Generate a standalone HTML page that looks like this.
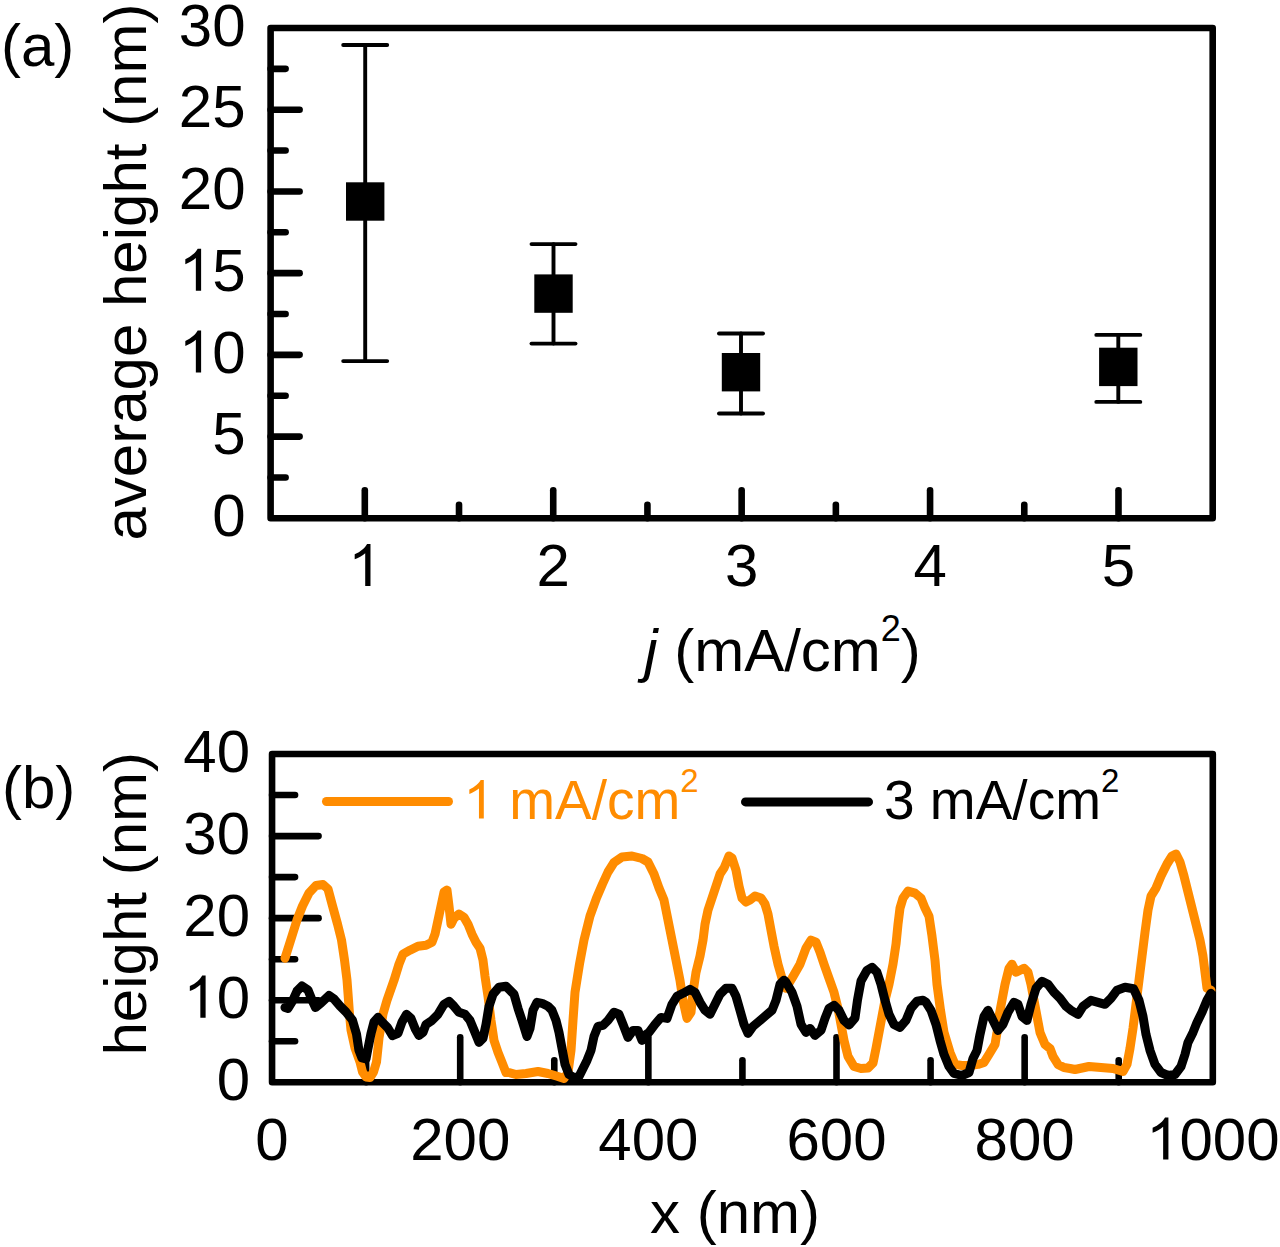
<!DOCTYPE html><html><head><meta charset="utf-8"><style>html,body{margin:0;padding:0;background:#fff;width:1280px;height:1247px;overflow:hidden}svg{display:block}text{font-family:"Liberation Sans",sans-serif}</style></head><body>
<svg width="1280" height="1247" viewBox="0 0 1280 1247">
<g stroke="#000" stroke-width="6.6" stroke-linecap="round" fill="none">
<line x1="270.6" y1="436.58" x2="299.6" y2="436.58"/>
<line x1="270.6" y1="354.87" x2="299.6" y2="354.87"/>
<line x1="270.6" y1="273.15" x2="299.6" y2="273.15"/>
<line x1="270.6" y1="191.43" x2="299.6" y2="191.43"/>
<line x1="270.6" y1="109.72" x2="299.6" y2="109.72"/>
<line x1="270.6" y1="477.44" x2="285.6" y2="477.44"/>
<line x1="270.6" y1="395.72" x2="285.6" y2="395.72"/>
<line x1="270.6" y1="314.01" x2="285.6" y2="314.01"/>
<line x1="270.6" y1="232.29" x2="285.6" y2="232.29"/>
<line x1="270.6" y1="150.57" x2="285.6" y2="150.57"/>
<line x1="270.6" y1="68.86" x2="285.6" y2="68.86"/>
<line x1="364.81" y1="518.3" x2="364.81" y2="490.29999999999995"/>
<line x1="553.23" y1="518.3" x2="553.23" y2="490.29999999999995"/>
<line x1="741.65" y1="518.3" x2="741.65" y2="490.29999999999995"/>
<line x1="930.07" y1="518.3" x2="930.07" y2="490.29999999999995"/>
<line x1="1118.49" y1="518.3" x2="1118.49" y2="490.29999999999995"/>
<line x1="459.02" y1="518.3" x2="459.02" y2="504.79999999999995"/>
<line x1="647.44" y1="518.3" x2="647.44" y2="504.79999999999995"/>
<line x1="835.86" y1="518.3" x2="835.86" y2="504.79999999999995"/>
<line x1="1024.28" y1="518.3" x2="1024.28" y2="504.79999999999995"/>
<rect x="270.6" y="28.0" width="942.10" height="490.30" stroke-linejoin="round"/>
</g>
<g stroke="#000" stroke-width="3.9" stroke-linecap="round" fill="none">
<line x1="365.2" y1="45.0" x2="365.2" y2="361.1"/>
<line x1="343.2" y1="45.0" x2="387.2" y2="45.0"/>
<line x1="343.2" y1="361.1" x2="387.2" y2="361.1"/>
<line x1="553.5" y1="244.1" x2="553.5" y2="343.6"/>
<line x1="531.5" y1="244.1" x2="575.5" y2="244.1"/>
<line x1="531.5" y1="343.6" x2="575.5" y2="343.6"/>
<line x1="741.0" y1="333.5" x2="741.0" y2="413.5"/>
<line x1="719.0" y1="333.5" x2="763.0" y2="333.5"/>
<line x1="719.0" y1="413.5" x2="763.0" y2="413.5"/>
<line x1="1118.3" y1="334.9" x2="1118.3" y2="401.9"/>
<line x1="1096.3" y1="334.9" x2="1140.3" y2="334.9"/>
<line x1="1096.3" y1="401.9" x2="1140.3" y2="401.9"/>
</g>
<rect x="346.00" y="182.30" width="38.4" height="38.4" fill="#000"/>
<rect x="534.30" y="274.40" width="38.4" height="38.4" fill="#000"/>
<rect x="721.80" y="353.00" width="38.4" height="38.4" fill="#000"/>
<rect x="1099.10" y="347.70" width="38.4" height="38.4" fill="#000"/>
<text x="1" y="65.8" font-size="60">(a)</text>
<text x="212.13" y="536.00" font-size="60" fill="#000">0</text>
<text x="212.13" y="454.28" font-size="60" fill="#000">5</text>
<path d="M763 0L583 0L583 1147C540 1106 483 1065 413 1024C343 983 280 952 224 931L224 1105C325 1152 413 1210 488 1276C563 1342 616 1407 647 1470L763 1470Z" transform="translate(178.76,372.57) scale(0.02930,-0.02865)" fill="#000"/><text x="212.13" y="372.57" font-size="60" fill="#000">0</text>
<path d="M763 0L583 0L583 1147C540 1106 483 1065 413 1024C343 983 280 952 224 931L224 1105C325 1152 413 1210 488 1276C563 1342 616 1407 647 1470L763 1470Z" transform="translate(178.76,290.85) scale(0.02930,-0.02865)" fill="#000"/><text x="212.13" y="290.85" font-size="60" fill="#000">5</text>
<text x="178.76" y="209.13" font-size="60" fill="#000">2</text><text x="212.13" y="209.13" font-size="60" fill="#000">0</text>
<text x="178.76" y="127.42" font-size="60" fill="#000">2</text><text x="212.13" y="127.42" font-size="60" fill="#000">5</text>
<text x="178.76" y="45.70" font-size="60" fill="#000">3</text><text x="212.13" y="45.70" font-size="60" fill="#000">0</text>
<path d="M763 0L583 0L583 1147C540 1106 483 1065 413 1024C343 983 280 952 224 931L224 1105C325 1152 413 1210 488 1276C563 1342 616 1407 647 1470L763 1470Z" transform="translate(348.13,586.00) scale(0.02930,-0.02865)" fill="#000"/>
<text x="536.55" y="586.00" font-size="60" fill="#000">2</text>
<text x="724.97" y="586.00" font-size="60" fill="#000">3</text>
<text x="913.39" y="586.00" font-size="60" fill="#000">4</text>
<text x="1101.81" y="586.00" font-size="60" fill="#000">5</text>
<text transform="translate(146,540.5) rotate(-90)" font-size="60">average height (nm)</text>
<text x="782.5" y="671" text-anchor="middle" font-size="60"><tspan font-style="italic">j</tspan> (mA/cm<tspan font-size="36" dy="-30">2</tspan><tspan dy="30">)</tspan></text>
<g stroke="#000" stroke-width="6.6" stroke-linecap="round" fill="none">
<line x1="272.05" y1="1000.22" x2="318.55" y2="1000.22"/>
<line x1="272.05" y1="918.15" x2="318.55" y2="918.15"/>
<line x1="272.05" y1="836.08" x2="318.55" y2="836.08"/>
<line x1="272.05" y1="1041.26" x2="295.05" y2="1041.26"/>
<line x1="272.05" y1="959.19" x2="295.05" y2="959.19"/>
<line x1="272.05" y1="877.11" x2="295.05" y2="877.11"/>
<line x1="272.05" y1="795.04" x2="295.05" y2="795.04"/>
<line x1="460.20" y1="1082.3" x2="460.20" y2="1037.3"/>
<line x1="648.35" y1="1082.3" x2="648.35" y2="1037.3"/>
<line x1="836.50" y1="1082.3" x2="836.50" y2="1037.3"/>
<line x1="1024.65" y1="1082.3" x2="1024.65" y2="1037.3"/>
<line x1="366.12" y1="1082.3" x2="366.12" y2="1060.3"/>
<line x1="554.28" y1="1082.3" x2="554.28" y2="1060.3"/>
<line x1="742.42" y1="1082.3" x2="742.42" y2="1060.3"/>
<line x1="930.58" y1="1082.3" x2="930.58" y2="1060.3"/>
<line x1="1118.72" y1="1082.3" x2="1118.72" y2="1060.3"/>
<rect x="272.05" y="754.0" width="940.75" height="328.30" stroke-linejoin="round"/>
</g>
<polyline points="285,958.2 292,936 297,920 302.5,906 309,893 316,885.5 323,884.5 328,889 332,904 337.5,924 341.5,940 344.5,960 347,980 348.5,1000 349.5,1014 351,1030 355,1048 360,1062 362.5,1072 366,1077 370,1077.5 373.5,1072 376.5,1062 379,1038 383,1014 387,1000.3 394,980.3 399,964.2 403,954.2 410,950.2 418,946.2 426,945.2 432,942.2 435,934.2 438,920.2 441,906.1 444,892.1 447,890.1 449,906.1 451,924.2 454,918.2 459,914.1 464,917.2 468,924.2 472,934.2 476,942.2 480,948.2 483,960.2 485,976.3 488,996.3 491,1020.4 494,1040.4 498,1052.4 502,1062.4 506,1072.5 509,1072.5 516,1074.5 526,1073.5 538,1071.5 548,1073.5 558,1076.5 564,1078.5 568,1072.5 571,1050.4 573,1020.4 575,992.3 579.5,964 584,940 590,916 596.5,898 602.5,884 608,872 614,862.5 622,857 632,856 642,858.5 648,862 654,874 659,888.1 664,900.1 668,920.2 672,940.2 676,960.2 680,980.3 683,1000.3 687,1018.4 691,1012.3 693,992.3 696,972.3 700,956.2 703,940.2 705,924.2 708,910.1 712,898.1 716,886.1 720,874.1 724,868.1 729,856 732,858 736,870.1 739,886.1 742,898.1 746,902.1 750,900.1 755,896.1 761,898.1 765,904.1 768,914.1 771,930.2 774,946.2 778,964.2 782,978.3 786,988.3 792,978.3 800,964.2 806,948.2 811,940.2 816,942.2 820,952.2 824,964.2 829,978.3 834,992.3 838,1008.3 841,1024.4 844,1040.4 848,1056.4 854,1066.5 861,1068.5 868,1068 873,1063 876,1048.4 879,1032.4 882,1016.4 885,1000.3 889,984.3 893,964.2 896,944.2 898,924.2 900,908.1 903,898.1 908,891.1 915,893.1 921,898.1 925,908.1 929,916.2 932,936.2 935,960.2 937,984.3 940.5,1010.3 944,1032.4 950,1052.4 955,1064.4 962,1065.5 970,1065.5 978,1064.4 984,1062.4 989,1054.4 995,1044.4 997,1032.4 999,1016.4 1002,1000.3 1005,984.3 1009,968.3 1012,964.2 1016,972.3 1020,970.3 1024,968.3 1028,972.3 1031,984.3 1034,1000.3 1037,1016.4 1040,1032.4 1045,1044.4 1050,1048.4 1053,1056.4 1058,1064.4 1064,1067.5 1070,1068.5 1075,1069.5 1089,1066.5 1101,1067.5 1113,1068.5 1123,1071.5 1127,1064.4 1130,1048.4 1133,1028.4 1136,1004.3 1139,980.3 1142,956.2 1145,932.2 1148,910.1 1151,896.1 1156,888.1 1161,876.1 1167,864 1172,856 1176,854 1180,862 1184,876.1 1188,892.1 1192,908.1 1196,924.2 1200,940.2 1203,956.2 1205,972.3 1207,988.3 1211,990.3" fill="none" stroke="#FF8C00" stroke-width="9" stroke-linejoin="round" stroke-linecap="round"/>
<polyline points="285,1007.5 288,1008.5 292,1002 297,991 302,986 308,990 312,1000 315.5,1007.5 321,1003 329,995.5 334,999 340,1006 346,1012 352.4,1020 356.5,1034 358.9,1050 362,1058 366,1059 367.7,1050 370.9,1034 374,1022 378,1017.3 382,1022 387.7,1027.7 392.5,1035.7 398,1033.3 402,1022 406.5,1014.3 411,1018.4 415,1028.4 419,1035.4 423,1032.4 426,1024.4 432,1020.4 438,1014.3 444,1004.3 449,1001.3 454,1006.3 459,1012.3 465,1014.3 470,1020.4 475,1032.4 479,1042.4 483,1038.4 486,1024.4 489,1006.3 493,994.3 499,987.3 506,986.3 508,988.3 514,994.3 518,1008.3 522,1020.4 527,1036.4 530,1028.4 533,1010.3 537,1002.3 542,1003.3 548,1006.3 552,1010.3 556,1020.4 559,1032.4 562,1048.4 565,1064.4 569,1074.5 574,1077.5 579,1076.5 583,1068.5 587,1060.4 591,1050.4 594,1036.4 598,1026.4 603,1025.4 608,1020.4 614,1012.3 619,1014.3 623,1024.4 628,1037.4 633,1030.4 638,1030.4 642,1040.4 646,1034.4 649,1032.4 655,1024.4 661,1017.4 667,1018.4 672,1004.3 677,996.3 683,993.3 690,989.3 695,992.3 700,1002.3 705,1010.3 710,1014.3 715,1004.3 720,994.3 726,988.3 732,988.3 736,996.3 740,1010.3 744,1024.4 748,1033.4 753,1026.4 759,1021.4 766,1015.4 772,1010.3 776,1000.3 780,984.3 784,980.3 786,982.3 792,992.3 797,1006.3 801,1024.4 806,1032.4 810,1028.4 815,1035.4 821,1030.4 825,1018.4 829,1008.3 834,1005.3 839,1010.3 844,1020.4 849,1025 855,1018 857.5,1000 861,981 867,970.3 872,967.3 877,972.3 881,984.3 885,1000.3 889,1014.3 894,1024.4 900,1027.4 906,1020.4 911,1008.3 917,1001.3 923,1000.3 926,1002.3 931,1010.3 936,1024.4 940,1040.4 944,1054.4 949,1066.5 954,1073.5 962,1075.5 969,1072.5 973,1058.4 977,1050.4 980,1034.4 984,1016.4 988,1010.3 993,1020.4 998,1030.4 1003,1024.4 1008,1012.3 1014,1002.3 1018,1004.3 1022,1016.4 1027,1020.4 1031,1004.3 1036,988.3 1042,981.3 1048,984.3 1054,992.3 1060,998.3 1066,1006.3 1071,1010.3 1078,1014.3 1083,1006.3 1091,1000.3 1098,1002.3 1105,1004.3 1111,998.3 1117,990.3 1125,987.3 1133.5,988.8 1139,1000.3 1143,1016.4 1146,1034.4 1150,1050.4 1155,1064.4 1161,1072.5 1168,1075.5 1175,1074.5 1181,1066.5 1185,1054.4 1188,1042.4 1193,1032.4 1197,1022.4 1202,1012.3 1207,1000.3 1211,993.3" fill="none" stroke="#000" stroke-width="9" stroke-linejoin="round" stroke-linecap="round"/>
<line x1="326.5" y1="801.5" x2="448.5" y2="801.5" stroke="#FF8C00" stroke-width="9" stroke-linecap="round"/>
<line x1="745.5" y1="801.9" x2="868.5" y2="801.9" stroke="#000" stroke-width="9" stroke-linecap="round"/>
<path d="M763 0L583 0L583 1147C540 1106 483 1065 413 1024C343 983 280 952 224 931L224 1105C325 1152 413 1210 488 1276C563 1342 616 1407 647 1470L763 1470Z" transform="translate(463.30,818.50) scale(0.02686,-0.02626)" fill="#FF8C00"/>
<text x="493.89" y="818.5" font-size="55" fill="#FF8C00">&#160;mA/cm<tspan font-size="33" dy="-27">2</tspan></text>
<text x="884" y="818.5" font-size="55" fill="#000">3 mA/cm<tspan font-size="33" dy="-27">2</tspan></text>
<text x="2" y="807.5" font-size="60">(b)</text>
<text x="216.63" y="1099.80" font-size="60" fill="#000">0</text>
<path d="M763 0L583 0L583 1147C540 1106 483 1065 413 1024C343 983 280 952 224 931L224 1105C325 1152 413 1210 488 1276C563 1342 616 1407 647 1470L763 1470Z" transform="translate(183.26,1017.72) scale(0.02930,-0.02865)" fill="#000"/><text x="216.63" y="1017.72" font-size="60" fill="#000">0</text>
<text x="183.26" y="935.65" font-size="60" fill="#000">2</text><text x="216.63" y="935.65" font-size="60" fill="#000">0</text>
<text x="183.26" y="853.58" font-size="60" fill="#000">3</text><text x="216.63" y="853.58" font-size="60" fill="#000">0</text>
<text x="183.26" y="771.50" font-size="60" fill="#000">4</text><text x="216.63" y="771.50" font-size="60" fill="#000">0</text>
<text x="255.37" y="1159.50" font-size="60" fill="#000">0</text>
<text x="410.15" y="1159.50" font-size="60" fill="#000">2</text><text x="443.52" y="1159.50" font-size="60" fill="#000">0</text><text x="476.88" y="1159.50" font-size="60" fill="#000">0</text>
<text x="598.30" y="1159.50" font-size="60" fill="#000">4</text><text x="631.67" y="1159.50" font-size="60" fill="#000">0</text><text x="665.03" y="1159.50" font-size="60" fill="#000">0</text>
<text x="786.45" y="1159.50" font-size="60" fill="#000">6</text><text x="819.82" y="1159.50" font-size="60" fill="#000">0</text><text x="853.18" y="1159.50" font-size="60" fill="#000">0</text>
<text x="974.60" y="1159.50" font-size="60" fill="#000">8</text><text x="1007.97" y="1159.50" font-size="60" fill="#000">0</text><text x="1041.33" y="1159.50" font-size="60" fill="#000">0</text>
<path d="M763 0L583 0L583 1147C540 1106 483 1065 413 1024C343 983 280 952 224 931L224 1105C325 1152 413 1210 488 1276C563 1342 616 1407 647 1470L763 1470Z" transform="translate(1146.06,1159.50) scale(0.02930,-0.02865)" fill="#000"/><text x="1179.43" y="1159.50" font-size="60" fill="#000">0</text><text x="1212.80" y="1159.50" font-size="60" fill="#000">0</text><text x="1246.17" y="1159.50" font-size="60" fill="#000">0</text>
<text transform="translate(146,1055.5) rotate(-90)" font-size="60">height (nm)</text>
<text x="735" y="1233" text-anchor="middle" font-size="60">x (nm)</text>
</svg></body></html>
